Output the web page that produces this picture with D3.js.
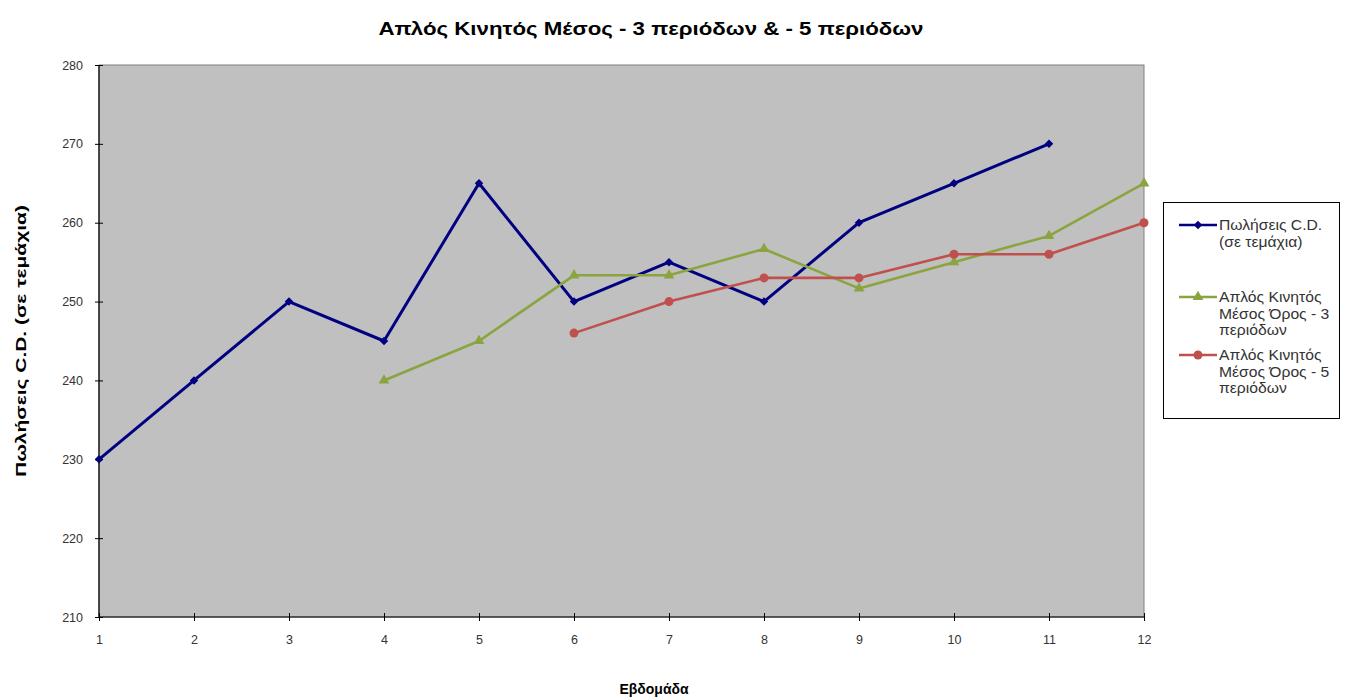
<!DOCTYPE html>
<html>
<head>
<meta charset="utf-8">
<script src="https://cdn.jsdelivr.net/npm/d3@7"></script>
<style>
  body { margin: 0; background: #fff; }
  svg { display: block; font-family: "Liberation Sans", Arial, sans-serif; }
</style>
</head>
<body>
<svg id="chart" width="1349" height="700"></svg>
<script>
// Weekly CD sales and their simple moving averages
const weeks = [1, 2, 3, 4, 5, 6, 7, 8, 9, 10, 11, 12];
const sales = [230, 240, 250, 245, 265, 250, 255, 250, 260, 265, 270, null];
const ma3 = [null, null, null, 240, 245, 253.33, 253.33, 256.67, 251.67, 255, 258.33, 265];
const ma5 = [null, null, null, null, null, 246, 250, 253, 253, 256, 256, 260];
const yTicks = [210, 220, 230, 240, 250, 260, 270, 280];

const seriesNames = [
  ["Πωλήσεις C.D.", "(σε τεμάχια)"],
  ["Απλός Κινητός", "Μέσος Όρος - 3", "περιόδων"],
  ["Απλός Κινητός", "Μέσος Όρος - 5", "περιόδων"]
];
const colors = ["#000080", "#8AA43F", "#C0504D"];

const svg = d3.select("#chart");
const plotL = 99, plotR = 1144, plotT = 65, plotB = 617;

const x = d3.scalePoint().domain(weeks).range([plotL, plotR]);
const y = d3.scaleLinear().domain([210, 280]).range([plotB, plotT]);

// plot area
svg.append("rect")
  .attr("x", plotL).attr("y", plotT)
  .attr("width", plotR - plotL).attr("height", plotB - plotT)
  .attr("fill", "#C0C0C0").attr("stroke", "#808080").attr("stroke-width", 1);

// axes
const yAxis = svg.append("g").attr("transform", `translate(${plotL},0)`)
  .call(d3.axisLeft(y).tickValues(yTicks).tickSize(4).tickPadding(12));
yAxis.selectAll(".tick line").attr("x1", 4).attr("x2", -4);
const xAxis = svg.append("g").attr("transform", `translate(0,${plotB})`)
  .call(d3.axisBottom(x).tickSize(4).tickPadding(14));
xAxis.selectAll(".tick line").attr("y1", -4).attr("y2", 4);
[yAxis, xAxis].forEach(a => {
  a.select(".domain").attr("stroke", "#000").attr("stroke-width", 1.2);
  a.selectAll(".tick line").attr("stroke", "#000");
  a.selectAll(".tick text").attr("fill", "#333")
    .style("font-size", "12.5px")
    .style("font-family", "'Liberation Sans', Arial, sans-serif");
});
xAxis.select(".domain").attr("d", `M${plotL},0H${plotR}`);
yAxis.select(".domain").attr("d", `M0,${plotB}V${plotT}`);

// marker shapes per series
const diamond = d3.symbol(d3.symbolSquare, 36)();
const triangle = d3.symbol(d3.symbolTriangle, 50)();
function marker(g, i, cx, cy) {
  if (i === 0) {
    g.append("path").attr("d", diamond)
      .attr("transform", `translate(${cx},${cy}) rotate(45)`).attr("fill", colors[i]);
  } else if (i === 1) {
    g.append("path").attr("d", triangle)
      .attr("transform", `translate(${cx},${cy})`).attr("fill", colors[i]);
  } else {
    g.append("circle").attr("cx", cx).attr("cy", cy).attr("r", 4.5).attr("fill", colors[i]);
  }
}

// lines and markers
const allSeries = [sales, ma3, ma5];
const line = d3.line()
  .defined(d => d.v !== null)
  .x(d => x(d.w)).y(d => y(d.v));

allSeries.forEach((vals, i) => {
  const pts = weeks.map((w, k) => ({ w, v: vals[k] }));
  svg.append("path").datum(pts)
    .attr("d", line).attr("fill", "none")
    .attr("stroke", colors[i]).attr("stroke-width", i === 0 ? 3 : 2.6)
    .attr("stroke-linejoin", "round");
  const g = svg.append("g");
  pts.filter(d => d.v !== null).forEach(d => marker(g, i, x(d.w), y(d.v)));
});

// title and axis titles
svg.append("text").attr("x", 651).attr("y", 35).attr("text-anchor", "middle")
  .attr("font-size", 18).attr("font-weight", "bold").attr("fill", "#000")
  .attr("textLength", 545).attr("lengthAdjust", "spacingAndGlyphs")
  .text("Απλός Κινητός Μέσος - 3 περιόδων & - 5 περιόδων");
svg.append("text").attr("x", 654).attr("y", 694).attr("text-anchor", "middle")
  .attr("font-size", 14).attr("font-weight", "bold").attr("fill", "#000")
  .text("Εβδομάδα");
svg.append("text").attr("transform", "translate(26,341) rotate(-90)")
  .attr("text-anchor", "middle")
  .attr("font-size", 14).attr("font-weight", "bold").attr("fill", "#000")
  .attr("textLength", 272).attr("lengthAdjust", "spacingAndGlyphs")
  .text("Πωλήσεις C.D. (σε τεμάχια)");

// legend
const lg = svg.append("g");
lg.append("rect").attr("x", 1163.5).attr("y", 202.5).attr("width", 176).attr("height", 216)
  .attr("fill", "#fff").attr("stroke", "#000").attr("stroke-width", 1);
const legendY = [225, 297, 355];
seriesNames.forEach((lines, i) => {
  const ly = legendY[i];
  lg.append("line").attr("x1", 1179).attr("x2", 1217).attr("y1", ly).attr("y2", ly)
    .attr("stroke", colors[i]).attr("stroke-width", 2.5);
  marker(lg, i, 1198, ly);
  lines.forEach((t, k) => {
    lg.append("text")
      .attr("transform", `translate(1219,${ly + 5 + k * 16.5}) scale(1.12,1)`)
      .attr("font-size", 14).attr("fill", "#333").text(t);
  });
});
</script>
</body>
</html>
